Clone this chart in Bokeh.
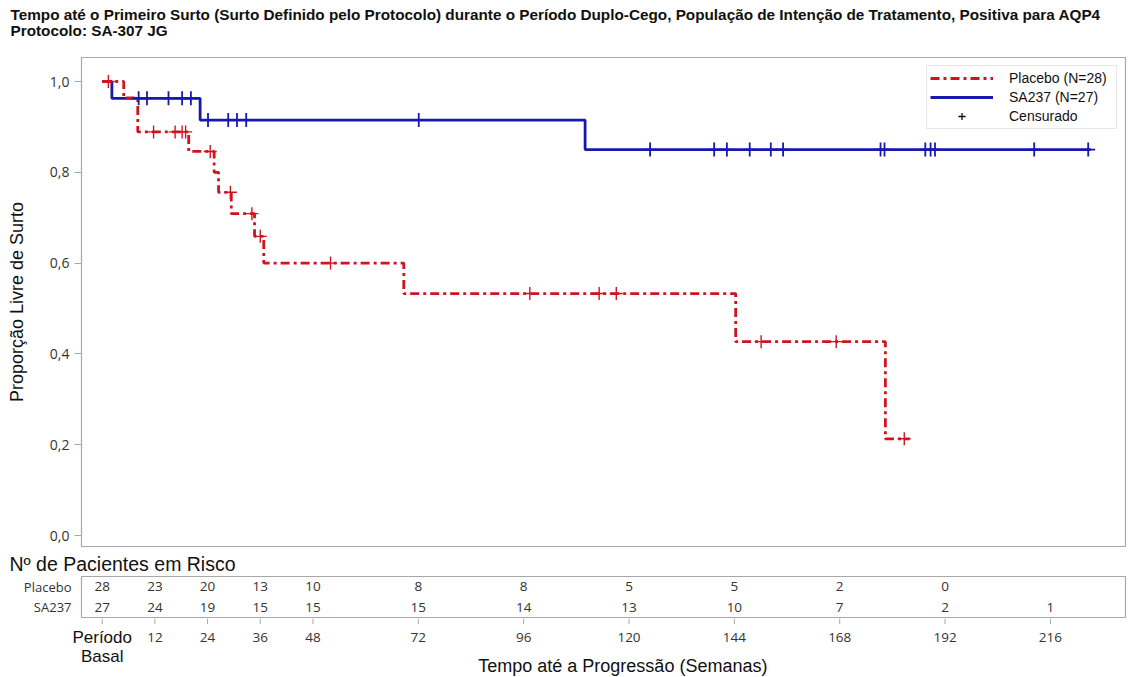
import numpy as np
from bokeh.plotting import figure
from bokeh.models import (Range1d, FactorRange, FixedTicker, Legend, LegendItem)
from bokeh.layouts import column
from bokeh.embed import file_html
from bokeh.resources import INLINE
from bokeh.core.properties import value

# ---------------- data ----------------
title_lines = ["Tempo até o Primeiro Surto (Surto Definido pelo Protocolo) durante o Período "
               "Duplo-Cego, População de Intenção de Tratamento, Positiva para AQP4",
               "Protocolo: SA-307 JG"]

placebo_t = [0, 4.9, 8.1, 19.7, 25.5, 26.5, 29.4, 34.7, 36.8, 68.7, 144.3, 178.4, 183.9]
placebo_s = [1.0, 0.964, 0.889, 0.846, 0.800, 0.756, 0.709, 0.659, 0.600, 0.533, 0.427, 0.213, 0.213]
placebo_cens = [1.4, 11.7, 16.6, 18.2, 19.0, 24.6, 29.2, 34.1, 36.0, 52.0,
                97.4, 113.2, 117.1, 150.1, 167.2, 182.7]

sa237_t = [0, 2.2, 22.3, 110.0, 225.2]
sa237_s = [1.0, 0.963, 0.915, 0.850, 0.850]
sa237_cens = [8.3, 10.2, 15.1, 18.2, 20.2, 24.1, 28.7, 30.7, 32.8, 72.1,
              124.8, 139.4, 142.3, 147.5, 152.3, 155.1, 177.3, 178.2,
              187.5, 188.7, 189.7, 212.3, 224.6]

risk_times = [0, 12, 24, 36, 48, 72, 96, 120, 144, 168, 192, 216]
risk_placebo = [28, 23, 20, 13, 10, 8, 8, 5, 5, 2, 0, None]
risk_sa237 = [27, 24, 19, 15, 15, 15, 14, 13, 10, 7, 2, 1]

y_ticks = [0.0, 0.2, 0.4, 0.6, 0.8, 1.0]
y_tick_labels = ["0,0", "0,2", "0,4", "0,6", "0,8", "1,0"]
x_ticks = [0, 12, 24, 36, 48, 72, 96, 120, 144, 168, 192, 216]
x_tick_labels = ["Período\nBasal", "12", "24", "36", "48", "72", "96", "120",
                 "144", "168", "192", "216"]

RED = "#D0141E"
BLUE = "#1818B0"
GRAY = "#a8a8a8"
SANS = "Liberation Sans"
NUM = "Open Sans"
TXT = "#111111"
NUMC = "#333333"

W = 1129
X_RANGE = Range1d(-4.72, 233.1)           # frame from 81 px to 1125 px
X_RANGE_WIDE = Range1d(-23.17, 233.1)     # same scale, frame from 0 px to 1125 px


def surv_at(ts, ss, t):
    idx = max(i for i, ti in enumerate(ts) if ti <= t)
    return ss[idx]


def bare(height, x_range, y_range, right=0):
    f = figure(width=W, height=height, x_range=x_range, y_range=y_range,
               output_backend="svg", toolbar_location=None,
               x_axis_location=None, y_axis_location=None,
               min_border_left=0, min_border_right=right, min_border_top=0, min_border_bottom=0)
    f.frame_align = False
    f.outline_line_color = None
    f.xgrid.visible = False
    f.ygrid.visible = False
    return f


# ---------------- title strip ----------------
h = bare(40, Range1d(0, W), Range1d(40, 0))
h.text(x=[10, 10], y=[14, 30], text=title_lines, text_align="left", text_baseline="middle",
       text_font=value(SANS), text_font_size="15.3px", text_font_style="bold", text_color=TXT)

# ---------------- main KM figure ----------------
p = figure(width=W, height=507,
           x_range=X_RANGE, y_range=Range1d(-0.0242, 1.0529),
           output_backend="svg", toolbar_location=None,
           min_border_left=81, min_border_right=4, min_border_top=17, min_border_bottom=1)
p.xgrid.visible = False
p.ygrid.visible = False
p.xaxis.visible = False
p.outline_line_color = GRAY
p.outline_line_width = 1.2

p.yaxis.ticker = FixedTicker(ticks=y_ticks)
p.yaxis.major_label_overrides = {t: l for t, l in zip(y_ticks, y_tick_labels)}
p.yaxis.minor_tick_line_color = None
p.yaxis.major_tick_in = 0
p.yaxis.major_tick_out = 7
p.yaxis.major_tick_line_color = GRAY
p.yaxis.axis_line_color = GRAY
p.yaxis.major_label_standoff = 5
p.yaxis.major_label_text_font = NUM
p.yaxis.major_label_text_font_size = "14px"
p.yaxis.major_label_text_color = NUMC
p.yaxis.axis_label = "Proporção Livre de Surto"
p.yaxis.axis_label_text_font = SANS
p.yaxis.axis_label_text_font_size = "18px"
p.yaxis.axis_label_text_font_style = "normal"
p.yaxis.axis_label_text_color = TXT
p.yaxis.axis_label_standoff = 20

r_blue = p.step(sa237_t, sa237_s, mode="after", line_color=BLUE, line_width=2.8)
r_red = p.step(placebo_t, placebo_s, mode="after", line_color=RED, line_width=2.8,
               line_dash="9 4 3 4")

p.scatter(sa237_cens, [surv_at(sa237_t, sa237_s, t) for t in sa237_cens],
          marker="cross", size=14, line_color=BLUE, line_width=1.8)
p.scatter(placebo_cens, [surv_at(placebo_t, placebo_s, t) for t in placebo_cens],
          marker="cross", size=13, line_color=RED, line_width=1.4)

# legend-only marker (kept outside the visible ranges)
r_cens = p.scatter(x=[-100], y=[-100], marker="cross", size=11,
                   line_color=TXT, line_width=1.3)

legend = Legend(items=[LegendItem(label="Placebo (N=28)", renderers=[r_red]),
                       LegendItem(label="SA237 (N=27)", renderers=[r_blue]),
                       LegendItem(label="Censurado", renderers=[r_cens])],
                location="top_right")
legend.label_text_font = SANS
legend.label_text_font_size = "14px"
legend.label_text_color = TXT
legend.glyph_width = 63
legend.glyph_height = 18
legend.label_height = 18
legend.label_width = 104
legend.label_standoff = 16
legend.spacing = 1
legend.padding = 3
legend.margin = 8
legend.border_line_color = "#cfcfcf"
legend.background_fill_alpha = 1.0
p.add_layout(legend)

# ---------------- at-risk table ----------------
t = figure(width=W, height=71, x_range=X_RANGE,
           y_range=FactorRange(factors=["SA237", "Placebo"], range_padding=0),
           output_backend="svg", toolbar_location=None, x_axis_location=None,
           min_border_left=81, min_border_right=4, min_border_top=29, min_border_bottom=1,
           title="Nº de Pacientes em Risco")
t.title.text_font = SANS
t.title.text_font_size = "19.5px"
t.title.text_font_style = "normal"
t.title.text_color = TXT
t.title.align = "left"
t.title.offset = -72
t.title.standoff = 4

t.xgrid.visible = False
t.ygrid.visible = False
t.outline_line_color = GRAY
t.outline_line_width = 1.2

t.yaxis.major_tick_line_color = None
t.yaxis.axis_line_color = None
t.yaxis.major_label_standoff = 4
t.yaxis.major_label_text_font = NUM
t.yaxis.major_label_text_font_size = "13px"
t.yaxis.major_label_text_color = NUMC

px = [x for x, v in zip(risk_times, risk_placebo) if v is not None]
pv = [str(v) for v in risk_placebo if v is not None]
t.text(x=px, y=["Placebo"] * len(px), text=pv, text_align="center", text_baseline="middle",
       text_font=value(NUM), text_font_size="13.5px", text_color=NUMC)
t.text(x=risk_times, y=["SA237"] * len(risk_times), text=[str(v) for v in risk_sa237],
       text_align="center", text_baseline="middle",
       text_font=value(NUM), text_font_size="13.5px", text_color=NUMC)

# ---------------- x ticks, tick labels and axis title strip ----------------
b = bare(58, X_RANGE_WIDE, Range1d(58, 0), right=4)
b.segment(x0=x_ticks, y0=[0] * len(x_ticks), x1=x_ticks, y1=[5.5] * len(x_ticks),
          line_color=GRAY, line_width=1)
b.text(x=x_ticks[1:], y=[18.7] * (len(x_ticks) - 1), text=x_tick_labels[1:],
       text_align="center", text_baseline="middle",
       text_font=value(NUM), text_font_size="13.5px", text_color=NUMC)
b.text(x=x_ticks[:1], y=[28.7], text=x_tick_labels[:1],
       text_align="center", text_baseline="middle", text_line_height=1.03,
       text_font=value(SANS), text_font_size="17px", text_color=TXT)
b.text(x=[118.6], y=[47], text=["Tempo até a Progressão (Semanas)"],
       text_align="center", text_baseline="middle",
       text_font=value(SANS), text_font_size="18px", text_color=TXT)

layout = column(h, p, t, b, spacing=0)
open("out.html", "w").write(file_html(layout, INLINE))
